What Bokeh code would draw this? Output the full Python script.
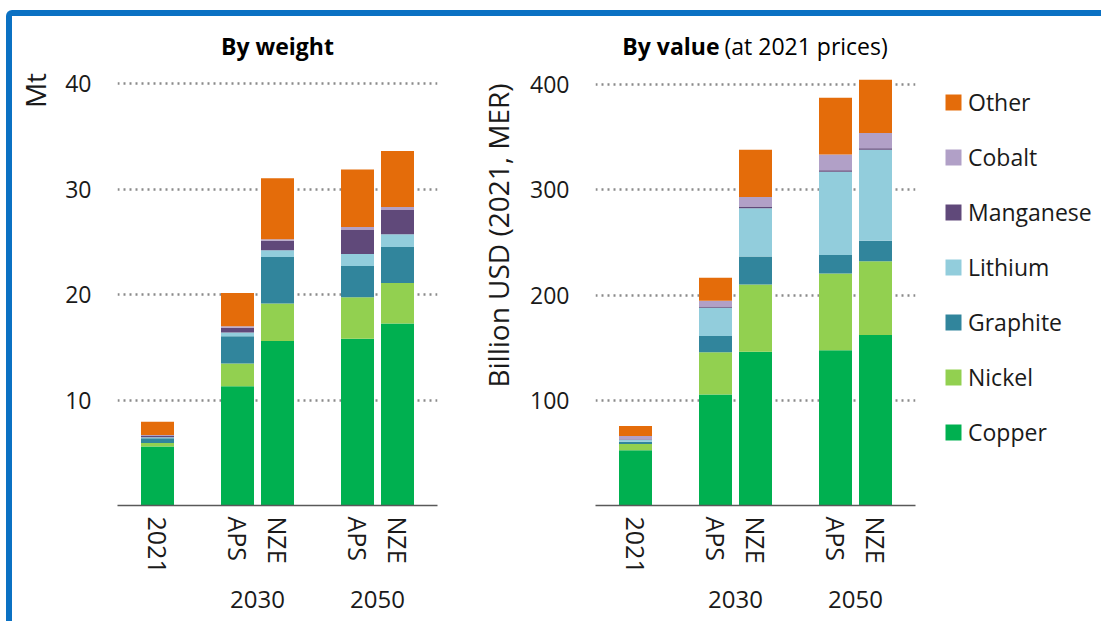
import math
from bokeh.plotting import figure
from bokeh.models import (FactorRange, Range1d, Legend, LegendItem, Label,
                          ColumnDataSource, Div, Spacer)
from bokeh.layouts import row, column
from bokeh.embed import file_html
from bokeh.resources import INLINE

# ---------------- data ----------------
years = [" ", "2030", "2030", "2050", "2050"]
cases = ["2021", "APS", "NZE", "APS", "NZE"]
materials = ["Copper", "Nickel", "Graphite", "Lithium", "Manganese", "Cobalt", "Other"]
colors = ["#00B050", "#92D050", "#31859C", "#92CDDC", "#60497A", "#B1A0C7", "#E46C0A"]

# By weight (Mt)
weight_copper = [5.6, 11.3, 15.6, 15.8, 17.25]
weight_nickel = [0.33, 2.15, 3.55, 3.95, 3.85]
weight_graphite = [0.45, 2.6, 4.4, 2.95, 3.4]
weight_lithium = [0.1, 0.35, 0.65, 1.15, 1.2]
weight_manganese = [0.15, 0.45, 0.9, 2.3, 2.3]
weight_cobalt = [0.05, 0.15, 0.13, 0.25, 0.3]
weight_other = [1.25, 3.15, 5.8, 5.45, 5.3]

# By value (billion USD 2021, MER)
value_copper = [52.5, 105.5, 146, 147.5, 162]
value_nickel = [6, 40, 64, 73, 70]
value_graphite = [2, 15.5, 26.5, 17.5, 19.5]
value_lithium = [2, 27, 46, 79, 86.5]
value_manganese = [0.5, 1, 1.5, 1.5, 1.5]
value_cobalt = [3, 5.5, 9, 15, 14.5]
value_other = [9.5, 22, 45, 54, 50.5]

weight_ticks = [10, 20, 30, 40]
value_ticks = [100, 200, 300, 400]

FONT = "Open Sans"
FS = "23px"
TXT = "#1a1a1a"
BLUE = "#0B71C3"
FIG_H = 605
TOP = 4                          # space above the (invisible) frame top
FRAME_H = 485                    # frame height; frame bottom sits at the baseline
BOTTOM = FIG_H - TOP - FRAME_H   # space below the frame (x axis labels)


def factors():
    return list(zip(years, cases))


def source(series):
    data = {"x": factors()}
    for m, vals in zip(materials, series):
        data[m] = vals
    return ColumnDataSource(data)


def blank_fig(width, x_range=None):
    p = figure(width=width, height=FIG_H,
               x_range=x_range if x_range is not None else Range1d(0, 1),
               y_range=Range1d(0, 1),
               x_axis_location=None, y_axis_location=None,
               min_border_left=0, min_border_right=0, min_border_top=TOP,
               min_border_bottom=BOTTOM, output_backend="svg", toolbar_location=None,
               outline_line_color=None)
    p.grid.visible = False
    return p


def make_fig(src, y_end, ticks, width, mb_left, mb_right):
    p = figure(
        x_range=FactorRange(*factors(), factor_padding=0, group_padding=1,
                            range_padding=0.5, range_padding_units="absolute"),
        y_range=Range1d(0, y_end),
        width=width, height=FIG_H,
        min_border_left=mb_left, min_border_right=mb_right,
        min_border_top=TOP, min_border_bottom=BOTTOM,
        output_backend="svg", toolbar_location=None,
        outline_line_color=None,
    )
    rs = p.vbar_stack(materials, x="x", width=0.825, fill_color=colors,
                      line_color=None, source=src)
    p.xgrid.grid_line_color = None
    p.yaxis.ticker = ticks
    p.ygrid.grid_line_color = "#8a8a8a"
    p.ygrid.grid_line_dash = "2 4"
    p.ygrid.grid_line_width = 2.5

    ya = p.yaxis[0]
    ya.axis_line_color = None
    ya.major_tick_line_color = None
    ya.minor_tick_line_color = None
    ya.major_label_text_font = FONT
    ya.major_label_text_font_size = FS
    ya.major_label_text_color = TXT
    ya.major_label_standoff = 20

    xa = p.xaxis[0]
    xa.axis_line_color = "#595959"
    xa.axis_line_width = 1.5
    xa.major_tick_line_color = None
    xa.minor_tick_line_color = None
    xa.major_label_orientation = "vertical"
    xa.major_label_text_font = FONT
    xa.major_label_text_font_size = "25px"
    xa.major_label_text_color = TXT
    xa.major_label_standoff = 5
    xa.group_text_font = FONT
    xa.group_text_font_size = "24px"
    xa.group_text_font_style = "normal"
    xa.group_text_color = TXT
    xa.separator_line_color = None
    return p, rs


def add_title(p, parts):
    # parts: list of (text, style, x_offset, align); y measured up from the baseline
    for text, style, dx, align in parts:
        p.add_layout(Label(x=160 + dx, y=460, x_units="screen", y_units="screen",
                           text=text, text_align=align, text_baseline="middle",
                           text_font=FONT, text_font_size=FS,
                           text_font_style=style, text_color="#000000"))


def y_title(width, text, cx, cy):
    p = blank_fig(width)
    p.add_layout(Label(x=cx, y=cy, x_units="screen", y_units="screen", text=text,
                       angle=math.pi / 2, text_align="center", text_baseline="middle",
                       text_font=FONT, text_font_size="28px", text_color=TXT))
    return p


weight_src = source([weight_copper, weight_nickel, weight_graphite, weight_lithium,
                     weight_manganese, weight_cobalt, weight_other])
value_src = source([value_copper, value_nickel, value_graphite, value_lithium,
                    value_manganese, value_cobalt, value_other])

# left panel: By weight
pl1 = y_title(40, "Mt", 22, 415)
p1, _ = make_fig(weight_src, FRAME_H / 10.55, weight_ticks, 418, 65, 33)
add_title(p1, [("By weight", "bold", 0, "center")])

# right panel: By value
pl2 = y_title(45, "Billion USD (2021, MER)", 27, 270)
p2, _ = make_fig(value_src, FRAME_H / 1.0525, value_ticks, 410, 80, 10)
add_title(p2, [("By value", "bold", -36, "right"),
               ("(at 2021 prices)", "normal", -31, "left")])

# legend panel (hidden copies of the value bars supply the legend swatches)
p3 = blank_fig(174, x_range=FactorRange(*factors()))
leg_renderers = p3.vbar_stack(materials, x="x", width=0.8, fill_color=colors,
                              line_color=None, source=value_src)
for r in leg_renderers:
    r.visible = False
items = [LegendItem(label=m, renderers=[r])
         for m, r in reversed(list(zip(materials, leg_renderers)))]
legend = Legend(items=items, location=(18, 57), orientation="vertical",
                glyph_width=20, glyph_height=20, label_standoff=5, spacing=23,
                label_height=31,
                label_text_font=FONT, label_text_font_size=FS, label_text_color=TXT,
                border_line_color=None, background_fill_alpha=0,
                inactive_fill_alpha=0, click_policy="none",
                padding=0, margin=0)
p3.add_layout(legend)

top_bar = Div(text="", width=1095, height=6, margin=0,
              styles={"background-color": BLUE, "border-top-left-radius": "6px"})
left_bar = Div(text="", width=6, height=FIG_H, margin=0,
               styles={"background-color": BLUE})

layout = column(
    Spacer(width=1095, height=10),
    row(Spacer(width=6, height=6), top_bar),
    row(Spacer(width=6, height=FIG_H), left_bar, pl1, p1, pl2, p2, p3),
)

open("out.html", "w").write(file_html(layout, INLINE))
